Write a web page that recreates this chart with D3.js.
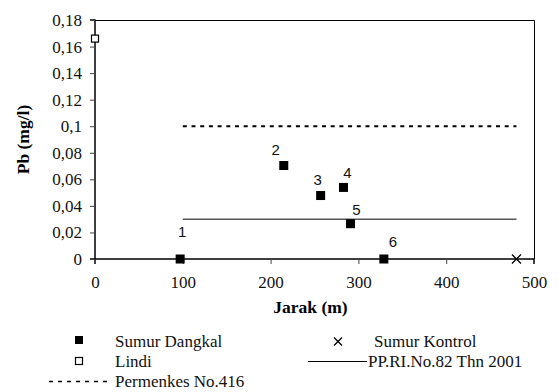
<!DOCTYPE html>
<html>
<head>
<meta charset="utf-8">
<script src="https://cdn.jsdelivr.net/npm/d3@7"></script>
<style>
  body { margin: 0; background: #fff; }
  svg text.sf { font-family: 'Liberation Serif', 'Times New Roman', serif; }
  svg text.ss { font-family: 'Liberation Sans', Arial, sans-serif; }
</style>
</head>
<body>
<div id="chart"></div>
<script>
// data
var sumurJarak = [97, 215, 257, 283, 291, 329];
var sumurPb = [0, 0.0704, 0.0478, 0.0539, 0.0266, 0];
var sumurLabel = ["1", "2", "3", "4", "5", "6"];
var lindiJarak = [0];
var lindiPb = [0.166];
var kontrolJarak = [480];
var kontrolPb = [0];
var permenkes = { x: [100, 480], y: 0.1 };
var ppri = { x: [100, 480], y: 0.03 };
var xTicks = [0, 100, 200, 300, 400, 500];
var yTicks = [0, 0.02, 0.04, 0.06, 0.08, 0.1, 0.12, 0.14, 0.16, 0.18];

// label offsets (px) for the data labels, as Excel placed them
var labelDx = [2, -8, -3, 4, 6, 9];
var labelDy = [-27, -16, -16, -15, -14, -17];

var W = 558, H = 392;
var margin = { top: 20, right: 24, bottom: 133, left: 95 },
  width = W - margin.left - margin.right,
  height = H - margin.top - margin.bottom;

var svg = d3.select("#chart")
  .append("svg")
  .attr("width", W)
  .attr("height", H);

var g = svg.append("g")
  .attr("transform", "translate(" + margin.left + "," + margin.top + ")");

var x = d3.scaleLinear().domain([0, 500]).range([0, width]);
var y = d3.scaleLinear().domain([0, 0.18]).range([height, 0]);

var fmt = function (d) { return d === 0 ? "0" : String(+d.toFixed(2)).replace(".", ","); };

// frame (top + right)
g.append("path")
  .attr("d", "M0,0.5H" + (width + 0.5) + "V" + height)
  .attr("fill", "none")
  .attr("stroke", "#000")
  .attr("stroke-width", 1);

// axes
var xAxis = g.append("g")
  .attr("transform", "translate(0," + height + ")")
  .call(d3.axisBottom(x).tickValues(xTicks).tickSize(5).tickPadding(12).tickFormat(d3.format("d")));
var yAxis = g.append("g")
  .call(d3.axisLeft(y).tickValues(yTicks).tickSize(5).tickPadding(8).tickFormat(fmt));

[xAxis, yAxis].forEach(function (a) {
  a.attr("font-family", null).attr("font-size", null);
  a.select(".domain").attr("stroke", "#000").attr("stroke-width", 1.5);
  a.selectAll(".tick line").attr("stroke", "#444");
  a.selectAll(".tick text")
    .attr("class", "sf")
    .style("font-size", "17px")
    .attr("fill", "#111");
});
yAxis.select(".domain").attr("d", "M-5," + height + "H0V0H-5");
xAxis.select(".domain").attr("d", "M0,5V0H" + width + "V5");

// axis titles
g.append("text")
  .attr("class", "sf")
  .attr("x", x(250) - 4)
  .attr("y", height + 54)
  .attr("text-anchor", "middle")
  .style("font-weight", "bold")
  .style("font-size", "17.5px")
  .text("Jarak (m)");

g.append("text")
  .attr("class", "sf")
  .attr("transform", "translate(" + (-66) + "," + (height / 2) + ") rotate(-90)")
  .attr("text-anchor", "middle")
  .style("font-weight", "bold")
  .style("font-size", "17.5px")
  .text("Pb (mg/l)");

// standard lines
g.append("line")
  .attr("x1", x(permenkes.x[0])).attr("x2", x(permenkes.x[1]))
  .attr("y1", y(permenkes.y)).attr("y2", y(permenkes.y))
  .attr("stroke", "#000")
  .attr("stroke-width", 2)
  .attr("stroke-dasharray", "4,4.7");

g.append("line")
  .attr("x1", x(ppri.x[0])).attr("x2", x(ppri.x[1]))
  .attr("y1", y(ppri.y)).attr("y2", y(ppri.y))
  .attr("stroke", "#000")
  .attr("stroke-width", 1);

// sumur dangkal points
var sumur = sumurJarak.map(function (d, i) { return { x: d, y: sumurPb[i], label: sumurLabel[i], dx: labelDx[i], dy: labelDy[i] }; });
var sq = 9;
g.selectAll(".sumur")
  .data(sumur)
  .enter().append("rect")
  .attr("x", function (d) { return x(d.x) - sq / 2; })
  .attr("y", function (d) { return y(d.y) - sq / 2; })
  .attr("width", sq).attr("height", sq)
  .attr("fill", "#000");

g.selectAll(".lbl")
  .data(sumur)
  .enter().append("text")
  .attr("class", "ss")
  .attr("x", function (d) { return x(d.x) + d.dx; })
  .attr("y", function (d) { return y(d.y) + d.dy; })
  .attr("dy", "0.36em")
  .attr("text-anchor", "middle")
  .style("font-size", "15px")
  .attr("fill", "#111")
  .text(function (d) { return d.label; });

// lindi
g.selectAll(".lindi")
  .data(lindiJarak)
  .enter().append("rect")
  .attr("x", function (d) { return x(d) - 3.5; })
  .attr("y", function (d, i) { return y(lindiPb[i]) - 3.5; })
  .attr("width", 7).attr("height", 7)
  .attr("fill", "#fff")
  .attr("stroke", "#000")
  .attr("stroke-width", 1.2);

// sumur kontrol
g.selectAll(".kontrol")
  .data(kontrolJarak)
  .enter().append("path")
  .attr("transform", function (d, i) { return "translate(" + x(d) + "," + y(kontrolPb[i]) + ")"; })
  .attr("d", "M-4.5,-4.5L4.5,4.5M-4.5,4.5L4.5,-4.5")
  .attr("stroke", "#000")
  .attr("stroke-width", 1.3);

// legend
var leg = svg.append("g");
function legText(tx, ty, s) {
  leg.append("text").attr("class", "sf").attr("x", tx).attr("y", ty).attr("dy", "0.35em")
    .style("font-size", "17px").attr("fill", "#111").text(s);
}
leg.append("rect").attr("x", 75).attr("y", 336).attr("width", 8).attr("height", 8).attr("fill", "#000");
legText(115, 341, "Sumur Dangkal");
leg.append("rect").attr("x", 75.5).attr("y", 357.5).attr("width", 7).attr("height", 7)
  .attr("fill", "#fff").attr("stroke", "#000").attr("stroke-width", 1.2);
legText(115, 361, "Lindi");
leg.append("line").attr("x1", 49).attr("x2", 108).attr("y1", 381.5).attr("y2", 381.5)
  .attr("stroke", "#000").attr("stroke-width", 1.5).attr("stroke-dasharray", "4,5");
legText(115, 381, "Permenkes No.416");
leg.append("path").attr("transform", "translate(338,341.5)")
  .attr("d", "M-4,-4L4,4M-4,4L4,-4").attr("stroke", "#000").attr("stroke-width", 1.3);
legText(374, 341, "Sumur Kontrol");
leg.append("line").attr("x1", 308).attr("x2", 367).attr("y1", 361.5).attr("y2", 361.5)
  .attr("stroke", "#000").attr("stroke-width", 1);
legText(368, 361, "PP.RI.No.82 Thn 2001");
</script>
</body>
</html>
